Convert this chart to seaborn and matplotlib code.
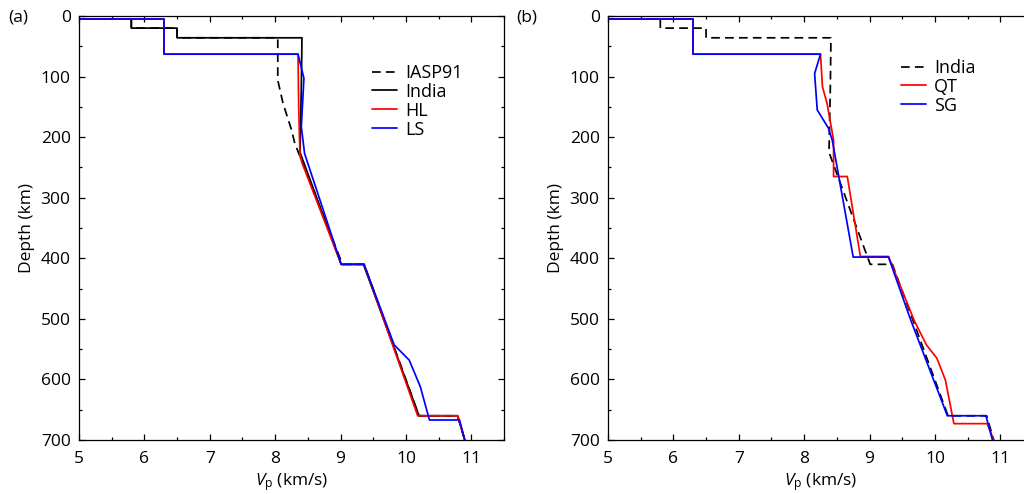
import numpy as np
import pandas as pd
import matplotlib
matplotlib.use("Agg")
import matplotlib.pyplot as plt
import seaborn as sns
from matplotlib.ticker import MultipleLocator

# ---------------- data (Vp in km/s, depth in km) ----------------
iasp91_vp = [5.0, 5.0, 5.8, 5.8, 6.5, 6.5, 8.04, 8.04, 8.12, 8.25, 8.30, 9.03, 9.36, 10.20, 10.79, 10.90]
iasp91_z  = [0,   5,   5,   20,  20,  36,  36,   106,  144,  188,  210,  410,  410,  660,   660,   700]

india_vp = [5.0, 5.0, 5.8, 5.8, 6.5, 6.5, 8.41, 8.40, 8.38, 9.01, 9.35, 10.20, 10.79, 10.90]
india_z  = [0,   5,   5,   20,  20,  36,  36,   120,  225,  410,  410,  660,   660,   700]

hl_vp = [5.0, 5.0, 6.3, 6.3, 8.35, 8.36, 8.38, 8.42, 9.01, 9.36, 10.18, 10.79, 10.90]
hl_z  = [0,   5,   5,   63,  63,   150,  232,  245,  410,  410,  660,   660,   700]

ls_vp = [5.0, 5.0, 6.3, 6.3, 8.35, 8.44, 8.40, 8.45, 9.01, 9.36, 9.82, 10.05, 10.22, 10.36, 10.82, 10.90]
ls_z  = [0,   5,   5,   63,  63,   103,  183,  227,  410,  410,  543,  568,   612,   667,   667,   700]

qt_vp = [5.0, 5.0, 6.3, 6.3, 8.25, 8.28, 8.35, 8.45, 8.45, 8.66, 8.86, 9.29, 9.68, 9.87, 10.03, 10.16, 10.29, 10.80, 10.90]
qt_z  = [0,   5,   5,   63,  63,   117,  144,  205,  265,  265,  397,  397,  502,  543,  565,   601,   673,   673,   700]

sg_vp = [5.0, 5.0, 6.3, 6.3, 8.25, 8.16, 8.20, 8.37, 8.43, 8.75, 9.29, 9.63, 10.19, 10.78, 10.88]
sg_z  = [0,   5,   5,   63,  63,   95,   155,  185,  205,  398,  398,  502,  660,   660,   700]

xticks = [5, 6, 7, 8, 9, 10, 11]
yticks = [0, 100, 200, 300, 400, 500, 600, 700]

# ---------------- style ----------------
sns.set_theme(style="ticks")
plt.rcParams["font.family"] = ["Open Sans", "DejaVu Sans"]
plt.rcParams["mathtext.fontset"] = "custom"
plt.rcParams["mathtext.rm"] = "Open Sans"
plt.rcParams["mathtext.it"] = "Open Sans:italic"
plt.rcParams["axes.linewidth"] = 0.9
for k in ("text.color", "axes.labelcolor", "xtick.color", "ytick.color", "axes.edgecolor"):
    plt.rcParams[k] = "black"

fig = plt.figure(figsize=(10.24, 4.94), dpi=100)
W, H = 1024, 494
ax_a = fig.add_axes([79 / W, 54 / H, 425 / W, 424 / H])
ax_b = fig.add_axes([608 / W, 54 / H, 425 / W, 424 / H])

FS = 12.5
LW = 1.25


def draw(ax, vp, z, color, label, dashed=False):
    df = pd.DataFrame({"vp": vp, "z": z})
    sns.lineplot(data=df, x="vp", y="z", sort=False, estimator=None, ax=ax,
                 color=color, lw=LW, label=label, dashes=False)
    if dashed:
        ax.lines[-1].set_dashes((5, 3))


draw(ax_a, iasp91_vp, iasp91_z, "black", "IASP91", dashed=True)
draw(ax_a, india_vp, india_z, "black", "India")
draw(ax_a, hl_vp, hl_z, "#ff0000", "HL")
draw(ax_a, ls_vp, ls_z, "#0000ff", "LS")

draw(ax_b, india_vp, india_z, "black", "India", dashed=True)
draw(ax_b, qt_vp, qt_z, "#ff0000", "QT")
draw(ax_b, sg_vp, sg_z, "#0000ff", "SG")

for ax in (ax_a, ax_b):
    ax.set_xlim(5, 11.5)
    ax.set_ylim(700, 0)
    ax.set_xticks(xticks)
    ax.set_yticks(yticks)
    ax.xaxis.set_minor_locator(MultipleLocator(0.5))
    ax.yaxis.set_minor_locator(MultipleLocator(50))
    ax.tick_params(which="both", direction="in", top=True, right=True,
                   width=0.9, labelsize=FS, color="black", labelcolor="black")
    ax.tick_params(axis="x", which="major", pad=8)
    ax.tick_params(axis="y", which="major", pad=6)
    ax.tick_params(which="major", length=4.5)
    ax.tick_params(which="minor", length=2.5)
    ax.set_xlabel(r"$V_\mathrm{p}$ (km/s)", fontsize=FS, labelpad=3)
    ax.set_ylabel("Depth (km)", fontsize=FS, labelpad=4)
    for s in ax.spines.values():
        s.set_color("black")

leg_kw = dict(loc="upper left", frameon=False, fontsize=13, handlelength=1.4,
              handletextpad=0.45, labelspacing=0.05, borderaxespad=0, borderpad=0)
ax_a.legend(bbox_to_anchor=(0.689, 0.887), **leg_kw)
ax_b.legend(bbox_to_anchor=(0.689, 0.899), **leg_kw)

fig.text(8 / W, 1 - 18 / H, "(a)", fontsize=FS, va="center", ha="left")
fig.text(516 / W, 1 - 18 / H, "(b)", fontsize=FS, va="center", ha="left")

fig.savefig("out.png", dpi=100)
